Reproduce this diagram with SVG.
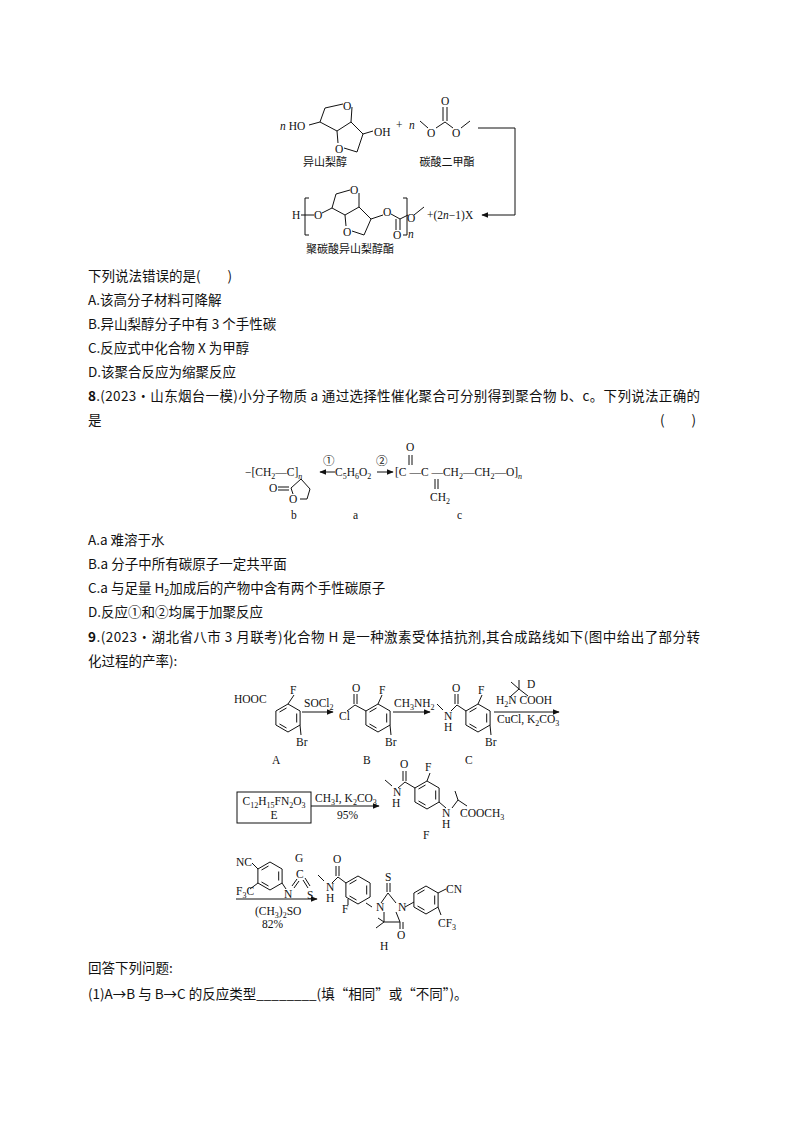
<svg xmlns="http://www.w3.org/2000/svg" width="794" height="1123" viewBox="0 0 794 1123">
<style>
.t{font-family:"Noto Sans CJK SC","Liberation Sans",sans-serif;font-size:13.5px;fill:#111}
.c{font-family:"Liberation Serif","Noto Sans CJK SC",serif;font-size:11.5px;fill:#111}
.cl{font-family:"Noto Sans CJK SC",sans-serif;font-size:11px;fill:#111}
.b{stroke:#111;stroke-width:1;fill:none}
.i{font-style:italic}
</style>
<defs>
<marker id="ah" viewBox="0 0 10 10" refX="9" refY="5" markerWidth="7" markerHeight="7" orient="auto"><path d="M0,1 L10,5 L0,9 Z" fill="#111"/></marker>
<g id="hex"><polygon class="b" points="0,-14 12.1,-7 12.1,7 0,14 -12.1,7 -12.1,-7"/><path class="b" d="M8.7,-4.5 L8.7,4.5 M-1.5,10 L-8.5,6 M-8.5,-6 L-1.5,-10"/></g>
</defs>
<rect width="794" height="1123" fill="#fff"/>

<!-- Reaction 7 -->
<g id="isosorbide">
<text class="c" x="280" y="130"><tspan class="i">n</tspan> HO</text>
<path class="b" d="M309,125 L320,122 L325,108 L343,104 M352,107 L351,122 L337,131 L320,122 M337,131 L338,143 M344,148 L357,152 L363,134 L351,122 M363,134 L373,131"/>
<text class="c" x="343" y="110">O</text>
<text class="c" x="335" y="153">O</text>
<text class="c" x="374" y="136">OH</text>
<text class="cl" x="325" y="166" text-anchor="middle">异山梨醇</text>
</g>
<text class="c" x="396" y="129">+</text>
<g id="dmc">
<text class="c i" x="409" y="129">n</text>
<path class="b" d="M420,121 L428,128 M436,128 L445,122 L453,128 M461,128 L470,121 M443,121 L443,107 M447,121 L447,107"/>
<text class="c" x="427" y="137">O</text>
<text class="c" x="441" y="105">O</text>
<text class="c" x="452" y="137">O</text>
<text class="cl" x="447" y="166" text-anchor="middle">碳酸二甲酯</text>
</g>
<g id="polymer">
<text class="c" x="292" y="219">H</text>
<path class="b" d="M301,215 L314,215 M309,198 L305,198 L305,235 L309,235 M322,213 L332,208 L336,194 L350,190 M359,193 L359,207 L345,215 L332,208 M345,215 L346,226 M352,231 L364,235 L371,219 L359,207 M371,219 L383,215 M391,214 L400,219 L400,230 M396,219 L396,230 M400,219 L408,215 M403,198 L407,198 L407,235 L403,235 M414,215 L424,207"/>
<text class="c" x="314" y="219">O</text>
<text class="c" x="350" y="194">O</text>
<text class="c" x="343" y="236">O</text>
<text class="c" x="383" y="216">O</text>
<text class="c" x="393" y="239">O</text>
<text class="c i" x="408" y="238" font-size="8">n</text>
<text class="c" x="407" y="222">O</text>
<text class="c" x="427" y="219">+(2<tspan class="i">n</tspan>−1)X</text>
<text class="cl" x="350" y="253" text-anchor="middle">聚碳酸异山梨醇酯</text>
</g>
<g id="connectors">
<path class="b" d="M478,128 L515,128 L515,215 L482,215" marker-end="url(#ah)"/>
</g>

<text class="t" x="88" y="281">下列说法错误的是(　　)</text>
<text class="t" x="88" y="305">A.该高分子材料可降解</text>
<text class="t" x="88" y="329">B.异山梨醇分子中有 3 个手性碳</text>
<text class="t" x="88" y="353">C.反应式中化合物 X 为甲醇</text>
<text class="t" x="88" y="377">D.该聚合反应为缩聚反应</text>
<text class="t" x="88" y="401" textLength="612"><tspan font-weight="bold">8</tspan>.(2023·山东烟台一模)小分子物质 a 通过选择性催化聚合可分别得到聚合物 b、c。下列说法正确的</text>
<text class="t" x="88" y="425">是</text>
<text class="t" x="660" y="425">(　　)</text>

<!-- Reaction 8 -->
<g id="rxn8">
<text class="c" x="245" y="476">−[CH<tspan font-size="8" dy="3">2</tspan><tspan dy="-3">—C</tspan>]<tspan class="i" font-size="8" dy="3">n</tspan></text>
<path class="b" d="M301,479 L291,488 L293,494 M301,479 L310,489 L307,499 L300,499 M289,487 L278,487 M289,490 L278,490"/>
<text class="c" x="269" y="492">O</text>
<text class="c" x="289" y="503">O</text>
<path class="b" d="M335,472 L320,472" marker-end="url(#ah)"/>
<text class="c" x="323" y="465">①</text>
<text class="c" x="335" y="476">C<tspan font-size="8" dy="3">5</tspan><tspan dy="-3">H</tspan><tspan font-size="8" dy="3">6</tspan><tspan dy="-3">O</tspan><tspan font-size="8" dy="3">2</tspan></text>
<path class="b" d="M377,472 L393,472" marker-end="url(#ah)"/>
<text class="c" x="376" y="465">②</text>
<text class="c" x="395" y="476">[C —C —CH<tspan font-size="8" dy="3">2</tspan><tspan dy="-3">—CH</tspan><tspan font-size="8" dy="3">2</tspan><tspan dy="-3">—O]</tspan><tspan class="i" font-size="8" dy="3">n</tspan></text>
<text class="c" x="406" y="451">O</text>
<path class="b" d="M409,455 L409,465 M412,455 L412,465 M435,479 L435,489 M438,479 L438,489"/>
<text class="c" x="430" y="501">CH<tspan font-size="8" dy="3">2</tspan></text>
<text class="c" x="291" y="519">b</text>
<text class="c" x="353" y="519">a</text>
<text class="c" x="457" y="519">c</text>
</g>

<text class="t" x="88" y="545">A.a 难溶于水</text>
<text class="t" x="88" y="569">B.a 分子中所有碳原子一定共平面</text>
<text class="t" x="88" y="593">C.a 与足量 H<tspan font-size="9" dy="3">2</tspan><tspan dy="-3">加成后的产物中含有两个手性碳原子</tspan></text>
<text class="t" x="88" y="617">D.反应①和②均属于加聚反应</text>
<text class="t" x="88" y="642" textLength="612"><tspan font-weight="bold">9</tspan>.(2023·湖北省八市 3 月联考)化合物 H 是一种激素受体拮抗剂,其合成路线如下(图中给出了部分转</text>
<text class="t" x="88" y="666">化过程的产率):</text>

<!-- Scheme 9 row 1 -->
<g id="A">
<use href="#hex" x="288" y="718"/>
<text class="c" x="234" y="703">HOOC</text>
<path class="b" d="M288,704 L294,695"/>
<text class="c" x="290" y="694">F</text>
<path class="b" d="M300,725 L301,735"/>
<text class="c" x="296" y="746">Br</text>
<text class="c" x="272" y="764">A</text>
</g>
<g id="B">
<use href="#hex" x="378" y="718"/>
<path class="b" d="M366,711 L355,705 L347,711 M354,704 L354,694 M357,704 L357,694 M378,704 L382,695"/>
<text class="c" x="352" y="692">O</text>
<text class="c" x="339" y="720">Cl</text>
<text class="c" x="379" y="694">F</text>
<path class="b" d="M390,725 L391,735"/>
<text class="c" x="385" y="746">Br</text>
<text class="c" x="363" y="764">B</text>
</g>
<g id="C">
<use href="#hex" x="478" y="718"/>
<path class="b" d="M466,711 L457,705 L451,711 M455,704 L455,694 M458,704 L458,694 M478,704 L482,695 M443,710 L437,704"/>
<text class="c" x="452" y="692">O</text>
<text class="c" x="444" y="720">N</text>
<text class="c" x="444" y="731">H</text>
<text class="c" x="478" y="694">F</text>
<path class="b" d="M490,725 L491,735"/>
<text class="c" x="485" y="746">Br</text>
<text class="c" x="465" y="764">C</text>
</g>
<g id="D">
<path class="b" d="M511,696 L519,689 L528,696 M519,689 L519,680 M519,689 L511,682"/>
<text class="c" x="527" y="688">D</text>
<text class="c" x="496" y="704">H<tspan font-size="8" dy="3">2</tspan><tspan dy="-3">N  COOH</tspan></text>
<text class="c" x="497" y="723">CuCl, K<tspan font-size="8" dy="3">2</tspan><tspan dy="-3">CO</tspan><tspan font-size="8" dy="3">3</tspan></text>
</g>

<!-- Row 2 -->
<g id="E">
<rect class="b" x="237" y="792" width="74" height="31"/>
<text class="c" x="274" y="805" text-anchor="middle">C<tspan font-size="8" dy="3">12</tspan><tspan dy="-3">H</tspan><tspan font-size="8" dy="3">15</tspan><tspan dy="-3">FN</tspan><tspan font-size="8" dy="3">2</tspan><tspan dy="-3">O</tspan><tspan font-size="8" dy="3">3</tspan></text>
<text class="c" x="274" y="819" text-anchor="middle">E</text>
<text class="c" x="315" y="802">CH<tspan font-size="8" dy="3">3</tspan><tspan dy="-3">I, K</tspan><tspan font-size="8" dy="3">2</tspan><tspan dy="-3">CO</tspan><tspan font-size="8" dy="3">3</tspan></text>
<text class="c" x="337" y="819">95%</text>
</g>
<g id="F">
<use href="#hex" x="427" y="795"/>
<path class="b" d="M415,788 L405,782 L398,788 M403,781 L403,771 M406,781 L406,771 M427,781 L430,773 M392,786 L385,780 M439,802 L446,808 M452,808 L458,800 L455,791 M458,800 L467,806"/>
<text class="c" x="400" y="768">O</text>
<text class="c" x="425" y="771">F</text>
<text class="c" x="393" y="796">N</text>
<text class="c" x="392" y="807">H</text>
<text class="c" x="442" y="817">N</text>
<text class="c" x="442" y="828">H</text>
<text class="c" x="460" y="817">COOCH<tspan font-size="8" dy="3">3</tspan></text>
<text class="c" x="423" y="839">F</text>
</g>

<!-- Row 3 -->
<g id="G">
<use href="#hex" x="270" y="876"/>
<text class="c" x="236" y="866">NC</text>
<path class="b" d="M252,863 L258,869"/>
<text class="c" x="236" y="895">F<tspan font-size="8" dy="3">3</tspan><tspan dy="-3">C</tspan></text>
<path class="b" d="M250,889 L258,883 M282,883 L286,889 M292,886 L297,879 M294,888 L299,881 M303,880 L308,888 M305,878 L310,886"/>
<text class="c" x="284" y="898">N</text>
<text class="c" x="296" y="878">C</text>
<text class="c" x="307" y="899">S</text>
<text class="c" x="295" y="862">G</text>
<text class="c" x="255" y="915">(CH<tspan font-size="8" dy="3">3</tspan><tspan dy="-3">)</tspan><tspan font-size="8" dy="3">2</tspan><tspan dy="-3">SO</tspan></text>
<text class="c" x="262" y="928">82%</text>
</g>
<g id="H">
<use href="#hex" x="358" y="890"/>
<path class="b" d="M346,883 L338,877 L332,883 M336,876 L336,866 M339,876 L339,866 M324,881 L318,875 M348,899 L348,905 M366,903 L372,907 M381,903 L388,893 L396,903 M387,892 L387,883 M390,892 L390,883 M384,912 L384,922 M396,912 L400,922 M384,922 L400,922 M384,922 L376,928 M384,922 L378,918 M400,922 L400,929 M403,922 L403,929 M405,907 L414,902"/>
<text class="c" x="333" y="863">O</text>
<text class="c" x="326" y="891">N</text>
<text class="c" x="326" y="902">H</text>
<text class="c" x="342" y="913">F</text>
<text class="c" x="376" y="911">N</text>
<text class="c" x="398" y="911">N</text>
<text class="c" x="385" y="881">S</text>
<text class="c" x="397" y="939">O</text>
<use href="#hex" x="426" y="900"/>
<path class="b" d="M438,893 L446,889 M438,907 L441,915"/>
<text class="c" x="446" y="893">CN</text>
<text class="c" x="438" y="927">CF<tspan font-size="8" dy="3">3</tspan></text>
<text class="c" x="380" y="950">H</text>
</g>

<g id="scheme-arrows">
<path class="b" d="M302,712 L333,712" marker-end="url(#ah)"/>
<text class="c" x="304" y="707">SOCl<tspan font-size="8" dy="3">2</tspan></text>
<path class="b" d="M393,712 L430,712" marker-end="url(#ah)"/>
<text class="c" x="394" y="707">CH<tspan font-size="8" dy="3">3</tspan><tspan dy="-3">NH</tspan><tspan font-size="8" dy="3">2</tspan></text>
<path class="b" d="M494,712 L559,712" marker-end="url(#ah)"/>
<path class="b" d="M311,806 L379,806" marker-end="url(#ah)"/>
<path class="b" d="M236,899 L317,899" marker-end="url(#ah)"/>
</g>

<text class="t" x="88" y="973">回答下列问题:</text>
<text class="t" x="88" y="999">(1)A→B 与 B→C 的反应类型________(填“相同”或“不同”)。</text>
</svg>
